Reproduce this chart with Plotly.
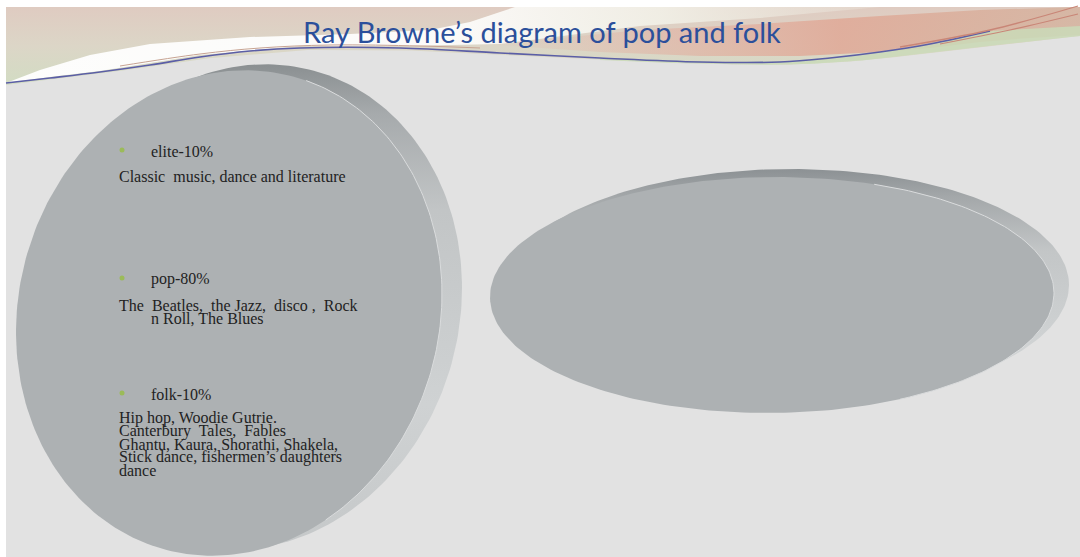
import numpy as np
import plotly.graph_objects as go

# ---------------- data (text content) ----------------
title_text = "Ray Browne\u2019s diagram of pop and folk"
categories = ["elite-10%", "pop-80%", "folk-10%"]
descriptions = [
    ["Classic\u00a0 music, dance and literature"],
    ["The\u00a0 Beatles,\u00a0 the Jazz,\u00a0 disco ,\u00a0 Rock", "n Roll, The Blues"],
    ["Hip hop, Woodie Gutrie.",
     "Canterbury\u00a0 Tales,\u00a0 Fables",
     "Ghantu, Kaura, Shorathi, Shakela,",
     "Stick dance, fishermen\u2019s daughters",
     "dance"],
]

# ---------------- layout constants (pixels) ----------------
W, H = 1080, 557
BG = "#e2e2e2"
FACE = "#adb1b3"
TEXT_COLOR = "#222222"
BULLET_COLOR = "#9bbb59"

label_y = [151, 279, 394]
desc_y = [[176], [305, 318], [418, 431, 444, 457, 470]]
desc_x = [[117], [117, 149], [117, 117, 117, 117, 117]]
bullet_x, label_x = 122, 149

fig = go.Figure()


def add_poly(xs, ys, color=None, grad=None):
    kw = dict(x=list(xs) + [xs[0]], y=list(ys) + [ys[0]], mode="lines",
              fill="toself", line=dict(width=0), hoverinfo="skip", showlegend=False)
    if grad is not None:
        kw["fillgradient"] = grad
        kw["fillcolor"] = "rgba(0,0,0,0)"
    else:
        kw["fillcolor"] = color
    fig.add_trace(go.Scatter(**kw))


def add_line(pts, color, width):
    fig.add_trace(go.Scatter(x=[p[0] for p in pts], y=[p[1] for p in pts], mode="lines",
                             line=dict(color=color, width=width, shape="spline"),
                             hoverinfo="skip", showlegend=False))


def ellipse(cx, cy, a, b, s, t0=0.0, t1=2 * np.pi, n=260):
    t = np.linspace(t0, t1, n)
    return cx + a * np.cos(t), cy + s * np.cos(t) + b * np.sin(t)


def smooth(pts, n=300):
    xs = np.array([p[0] for p in pts], float)
    ys = np.array([p[1] for p in pts], float)
    xx = np.linspace(xs.min(), xs.max(), n)
    return xx, np.interp(xx, xs, ys)


# ---------------- banner ----------------
M = [(6, 83), (50, 78), (100, 72), (150, 65), (200, 57), (250, 51), (300, 48), (400, 48),
     (500, 53), (600, 58), (700, 62), (780, 62), (830, 58), (880, 52), (930, 44), (990, 31)]
L = [(6, 85), (100, 74), (200, 59), (300, 50), (400, 50), (500, 55), (600, 60), (700, 64),
     (780, 65), (830, 63), (880, 59), (930, 53), (980, 47), (1030, 41), (1080, 36)]

lx, ly = smooth(L)
add_poly([6] + list(lx) + [1080], [7] + list(ly) + [7],
         grad=dict(type="vertical", start=7, stop=85,
                   colorscale=[[0, "#dfcbc1"], [0.5, "#dcd6c7"], [1, "#d2dcc3"]]))

# white swoosh
wx = [6, 40, 90, 150, 250, 350, 430, 470, 500, 515, 880, 760, 640, 560, 500, 400, 300, 200, 150, 100, 50]
wy = [83, 70, 55, 44, 37, 34, 30, 22, 12, 7, 7, 18, 26, 36, 44, 46, 46, 55, 63, 71, 77]
add_poly(wx, wy, grad=dict(type="horizontal", start=6, stop=880,
                           colorscale=[[0, "rgba(255,255,255,0.95)"], [0.5, "rgba(255,255,255,0.9)"],
                                       [0.75, "rgba(244,245,236,0.8)"], [1, "rgba(236,234,224,0.3)"]]))

# pink swoosh
px = [480, 560, 640, 760, 880, 980, 1080, 1080, 1030, 980, 930, 880, 800, 700, 600]
py = [44, 38, 30, 24, 16, 10, 7, 35, 38, 42, 48, 52, 56, 56, 52]
add_poly(px, py, grad=dict(type="horizontal", start=480, stop=1080,
                           colorscale=[[0, "rgba(225,180,165,0)"], [0.3, "rgba(225,175,160,0.55)"],
                                       [0.6, "rgba(224,168,150,0.85)"], [1, "rgba(212,178,158,0.8)"]]))

# green band under the line on the right
mx, my = smooth([p for p in M if p[0] >= 520] + [(1080, 26)])
lx2, ly2 = smooth([p for p in L if p[0] >= 520])
add_poly(list(mx) + list(lx2[::-1]), list(my) + list(ly2[::-1]), color="rgba(202,218,184,0.85)")

add_line([(120, 66), (200, 54), (260, 48), (330, 45), (420, 46), (480, 48)], "#c7a392", 1)
add_line(M, "#5b5ea6", 1.6)
add_line([(900, 47), (990, 30), (1078, 6)], "#c98677", 1.3)
add_line([(940, 44), (1010, 30), (1078, 14)], "#c98677", 1.2)

# ---------------- left coin ----------------
rx, ry = ellipse(249, 307, 213, 242, -19)
add_poly(rx, ry, grad=dict(type="vertical", start=65, stop=550,
                           colorscale=[[0, "#8b9092"], [0.1, "#a6aaac"], [0.3, "#c2c5c6"],
                                       [0.7, "#cfd2d3"], [1, "#c5c8c9"]]))
fx, fy = ellipse(229, 313, 213, 242, -19)
add_poly(fx, fy, color=FACE)
hx, hy = ellipse(229, 313, 213, 242, -19, -1.2, 1.1, 120)
fig.add_trace(go.Scatter(x=hx, y=hy, mode="lines", line=dict(color="#dadcdd", width=1),
                         hoverinfo="skip", showlegend=False))

# ---------------- right coin ----------------
rx, ry = ellipse(787, 287, 282, 118, -2)
add_poly(rx, ry, grad=dict(type="vertical", start=169, stop=405,
                           colorscale=[[0, "#8c9194"], [0.12, "#a4a8aa"], [0.35, "#c3c6c7"],
                                       [0.75, "#d0d3d4"], [1, "#c6c9ca"]]))
fx, fy = ellipse(772, 295, 282, 118, -2)
add_poly(fx, fy, color=FACE)
hx, hy = ellipse(772, 295, 282, 118, -2, -1.2, 1.1, 120)
fig.add_trace(go.Scatter(x=hx, y=hy, mode="lines", line=dict(color="#dadcdd", width=1),
                         hoverinfo="skip", showlegend=False))

# ---------------- bullets & text ----------------
fig.add_trace(go.Scatter(x=[bullet_x] * len(categories), y=[y - 1 for y in label_y], mode="markers",
                         marker=dict(color=BULLET_COLOR, size=5), hoverinfo="skip", showlegend=False))

font = dict(family="Liberation Serif, Times New Roman, serif", size=16, color=TEXT_COLOR)
for i, cat in enumerate(categories):
    fig.add_annotation(x=label_x, y=label_y[i], text=cat, showarrow=False,
                       xanchor="left", yanchor="middle", font=font, xref="x", yref="y")
    for j, line in enumerate(descriptions[i]):
        fig.add_annotation(x=desc_x[i][j], y=desc_y[i][j], text=line, showarrow=False,
                           xanchor="left", yanchor="middle", font=font, xref="x", yref="y")

fig.add_annotation(x=542, y=31, text=title_text, showarrow=False, xanchor="center", yanchor="middle",
                   font=dict(family="Lato, Open Sans, sans-serif", size=29, color="#2b4f9b"),
                   xref="x", yref="y")

fig.add_shape(type="rect", x0=6, x1=1080, y0=7, y1=557, xref="x", yref="y",
              fillcolor=BG, line=dict(width=0), layer="below")

fig.update_layout(
    width=W, height=H, margin=dict(l=0, r=0, t=0, b=0),
    paper_bgcolor="white", plot_bgcolor="white",
    xaxis=dict(range=[0, W], visible=False, fixedrange=True),
    yaxis=dict(range=[H, 0], visible=False, fixedrange=True),
    showlegend=False,
)

fig.write_html("out.html", config={"displayModeBar": False},
               post_script="document.body.style.margin='0px';document.body.style.overflow='hidden';")
